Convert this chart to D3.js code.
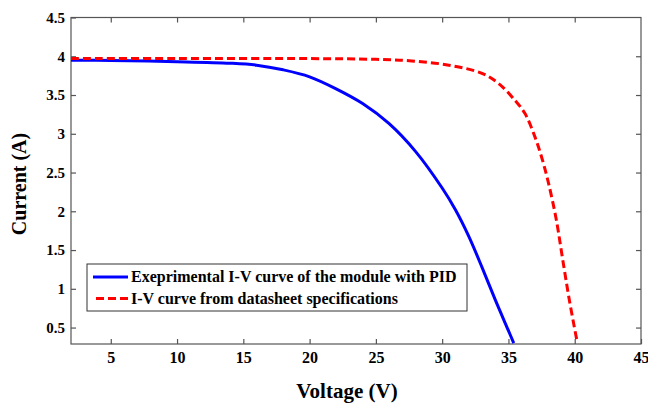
<!DOCTYPE html>
<html>
<head>
<meta charset="utf-8">
<script src="https://cdn.jsdelivr.net/npm/d3@7"></script>
<style>
  body { margin: 0; background: #fff; }
  text { font-family: "Times New Roman", "Liberation Serif", serif; font-weight: bold; fill: #000; }
</style>
</head>
<body>
<svg id="chart" width="648" height="403"></svg>
<script>
var expVoltage = [2, 5, 10, 14, 16, 18, 20, 22, 24, 26, 28, 30, 31, 32, 33, 34, 35, 35.4];
var expCurrent = [3.95, 3.945, 3.93, 3.91, 3.885, 3.825, 3.735, 3.58, 3.39, 3.13, 2.77, 2.30, 2.02, 1.68, 1.28, 0.86, 0.46, 0.30];

var dsVoltage = [2, 10, 20, 25, 27.7, 30.5, 33, 34.25, 35.5, 36.25, 37, 37.5, 38, 38.6, 39.1, 39.6, 40.2];
var dsCurrent = [3.97, 3.97, 3.97, 3.96, 3.94, 3.885, 3.78, 3.65, 3.43, 3.26, 2.96, 2.70, 2.38, 1.90, 1.37, 0.85, 0.30];

var xTicks = [5, 10, 15, 20, 25, 30, 35, 40, 45];
var yTicks = [0.5, 1, 1.5, 2, 2.5, 3, 3.5, 4, 4.5];

var legendLabels = ["Exeprimental I-V curve of the module with PID", "I-V curve from datasheet specifications"];

var plotLeft = 71, plotRight = 641, plotTop = 17.5, plotBottom = 344;

var svg = d3.select("#chart");

var x = d3.scaleLinear().domain([2, 45]).range([plotLeft, plotRight]);
var y = d3.scaleLinear().domain([0.288, 4.5]).range([plotBottom, plotTop]);

// frame
svg.append("rect")
  .attr("x", plotLeft).attr("y", plotTop)
  .attr("width", plotRight - plotLeft).attr("height", plotBottom - plotTop)
  .attr("fill", "none").attr("stroke", "#555").attr("stroke-width", 1.2);

function styleAxis(g) {
  g.select(".domain").remove();
  g.selectAll(".tick line").attr("stroke", "#555").attr("stroke-width", 1.2);
}

// bottom axis, ticks inward
svg.append("g")
  .attr("transform", "translate(0," + plotBottom + ")")
  .call(d3.axisBottom(x).tickValues(xTicks).tickSize(-5).tickPadding(8).tickFormat(d3.format("d")))
  .call(styleAxis)
  .selectAll("text").style("font-size", "16px").style("font-family", null);

// top axis ticks only
svg.append("g")
  .attr("transform", "translate(0," + plotTop + ")")
  .call(d3.axisTop(x).tickValues(xTicks.slice(0, -1)).tickSize(-5).tickFormat(""))
  .call(styleAxis);

// left axis
svg.append("g")
  .attr("transform", "translate(" + plotLeft + ",0)")
  .call(d3.axisLeft(y).tickValues(yTicks).tickSize(-5).tickPadding(6).tickFormat(d3.format("")))
  .call(styleAxis)
  .selectAll("text").style("font-size", "15px").style("font-family", null);

// right axis ticks only
svg.append("g")
  .attr("transform", "translate(" + plotRight + ",0)")
  .call(d3.axisRight(y).tickValues(yTicks.slice(0, -1)).tickSize(-5).tickFormat(""))
  .call(styleAxis);

var line = d3.line()
  .x(function (d) { return x(d[0]); })
  .y(function (d) { return y(d[1]); })
  .curve(d3.curveCatmullRom.alpha(0.5));

var expData = d3.zip(expVoltage, expCurrent);
var dsData = d3.zip(dsVoltage, dsCurrent);

svg.append("path")
  .datum(expData)
  .attr("d", line)
  .attr("fill", "none")
  .attr("stroke", "#0000ff")
  .attr("stroke-width", 3);

svg.append("path")
  .datum(dsData)
  .attr("d", line)
  .attr("fill", "none")
  .attr("stroke", "#ff0000")
  .attr("stroke-width", 3)
  .attr("stroke-dasharray", "8,4");

// axis titles
svg.append("text")
  .attr("x", 347).attr("y", 398)
  .attr("text-anchor", "middle")
  .style("font-size", "21px")
  .text("Voltage (V)");

svg.append("text")
  .attr("transform", "translate(26,184) rotate(-90)")
  .attr("text-anchor", "middle")
  .style("font-size", "20px")
  .text("Current (A)");

// legend
var legend = svg.append("g");
legend.append("rect")
  .attr("x", 87).attr("y", 264)
  .attr("width", 380).attr("height", 47)
  .attr("fill", "#fff").attr("stroke", "#333").attr("stroke-width", 1);

var rows = legend.selectAll("g.row")
  .data(legendLabels)
  .enter().append("g")
  .attr("class", "row")
  .attr("transform", function (d, i) { return "translate(0," + (277 + i * 21.5) + ")"; });

rows.append("line")
  .attr("x1", function (d, i) { return i ? 96 : 93; }).attr("x2", 128)
  .attr("y1", 0).attr("y2", 0)
  .attr("stroke", function (d, i) { return i ? "#ff0000" : "#0000ff"; })
  .attr("stroke-width", 3)
  .attr("stroke-dasharray", function (d, i) { return i ? "8,4" : null; });

rows.append("text")
  .attr("x", 131).attr("y", 5)
  .style("font-size", "16px")
  .text(function (d) { return d; });
</script>
</body>
</html>
